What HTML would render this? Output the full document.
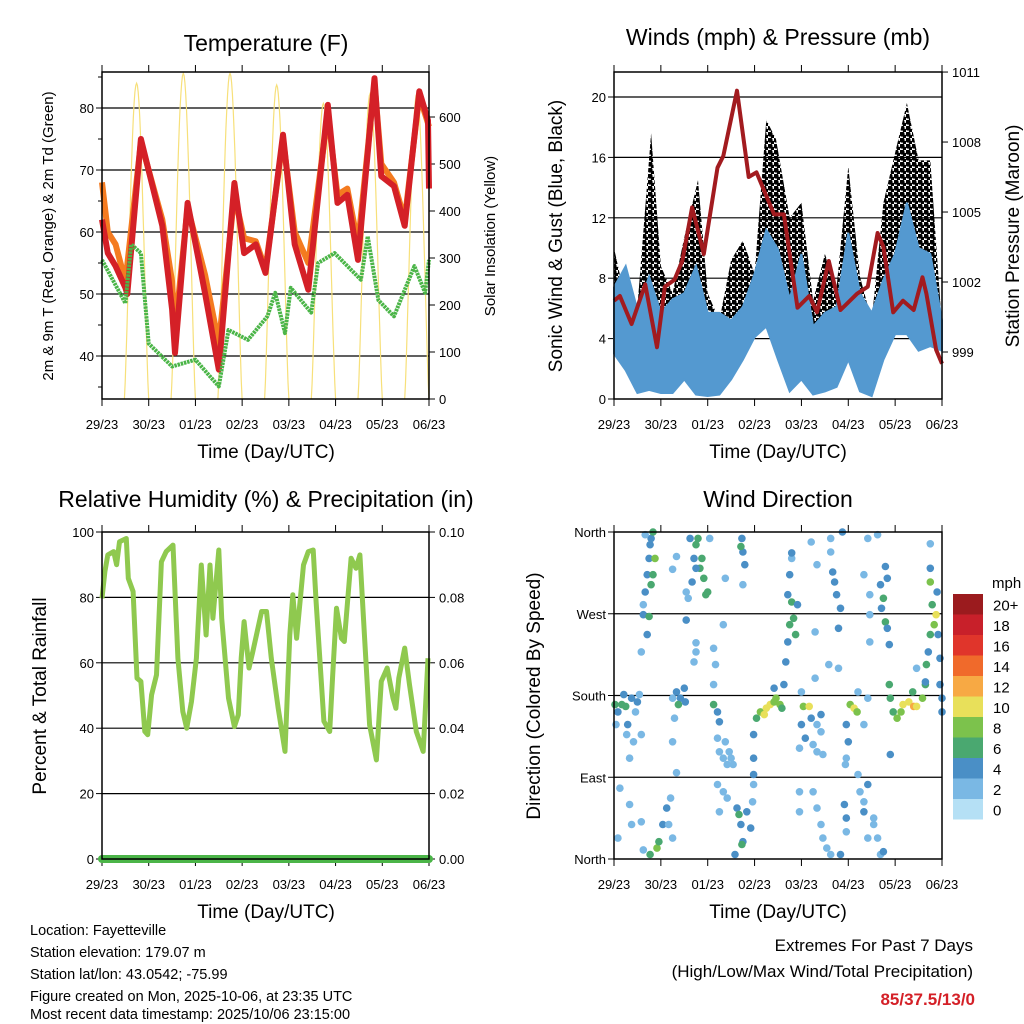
<!DOCTYPE html>
<html><head><meta charset="utf-8"><style>
html,body{margin:0;padding:0;background:#fff;}
svg{display:block;font-family:"Liberation Sans",Arial,sans-serif;}
</style></head><body>
<svg id="root" width="1024" height="1024" viewBox="0 0 1024 1024" xmlns="http://www.w3.org/2000/svg">
<defs>
<pattern id="gustDots" patternUnits="userSpaceOnUse" width="6" height="6">
<circle cx="2" cy="2" r="2.6" fill="#000"/>
<circle cx="5" cy="5" r="2.2" fill="#000"/>
</pattern>
</defs>
<rect x="0" y="0" width="1024" height="1024" fill="#fff"/>
<g id="layer"></g>
<text x="266" y="51" font-size="23" text-anchor="middle">Temperature (F)</text>
<text x="778" y="45" font-size="23" text-anchor="middle">Winds (mph) &amp; Pressure (mb)</text>
<text x="266" y="507" font-size="23" text-anchor="middle">Relative Humidity (%) &amp; Precipitation (in)</text>
<text x="778" y="507" font-size="23" text-anchor="middle">Wind Direction</text>
<text transform="translate(53,236) rotate(-90)" font-size="15" text-anchor="middle">2m &amp; 9m T (Red, Orange) &amp; 2m Td (Green)</text>
<text transform="translate(495,236) rotate(-90)" font-size="15" text-anchor="middle">Solar Insolation (Yellow)</text>
<text transform="translate(562,236) rotate(-90)" font-size="19" text-anchor="middle">Sonic Wind &amp; Gust (Blue, Black)</text>
<text transform="translate(1019,236) rotate(-90)" font-size="19" text-anchor="middle">Station Pressure (Maroon)</text>
<text transform="translate(46,696) rotate(-90)" font-size="19" text-anchor="middle">Percent &amp; Total Rainfall</text>
<text transform="translate(540,696) rotate(-90)" font-size="19" text-anchor="middle">Direction (Colored By Speed)</text>
<text x="266" y="458" font-size="19" text-anchor="middle">Time (Day/UTC)</text>
<text x="778" y="458" font-size="19" text-anchor="middle">Time (Day/UTC)</text>
<text x="266" y="918" font-size="19" text-anchor="middle">Time (Day/UTC)</text>
<text x="778" y="918" font-size="19" text-anchor="middle">Time (Day/UTC)</text>
<g font-size="14.5">
<text x="30" y="935">Location: Fayetteville</text>
<text x="30" y="957">Station elevation: 179.07 m</text>
<text x="30" y="979">Station lat/lon: 43.0542; -75.99</text>
<text x="30" y="1001">Figure created on Mon, 2025-10-06, at 23:35 UTC</text>
<text x="30" y="1023" dy="-4">Most recent data timestamp: 2025/10/06 23:15:00</text>
</g>
<g text-anchor="end">
<text x="973" y="951" font-size="17">Extremes For Past 7 Days</text>
<text x="973" y="977" font-size="17">(High/Low/Max Wind/Total Precipitation)</text>
<text x="975" y="1005" font-size="17" font-weight="bold" fill="#d42027">85/37.5/13/0</text>
</g>
<text x="992" y="588" font-size="15">mph</text>
</svg>
<script>
// ---------- DATA ----------
const dayLabels = ["29/23","30/23","01/23","02/23","03/23","04/23","05/23","06/23"];
// Temperature (hours since start)
const tRedHours = [0,3,7,12,13,20,31,36,37.5,44,53,60,68,73,79,84,93,99,106,116,121,126,131.5,140,143.5,150,155.5,163,167.5,168];
const tRed = [62,56.6,54.5,51,50,75,61,47.5,40.5,64.7,50,37.8,67.9,56.6,58,53.4,75.7,58,50.7,80.5,64.7,66,55.5,84.8,69,67.4,61,82.7,78,67];
const tOrangeHours = [0,1.5,3,7,12,20,31,36,37.5,44,53,60,68,73,79,84,93,99,106,116,121,126,131.5,140,143.5,150,155.5,163,168];
const tOrange = [68,64,60,58,52,74.5,62,52,44,64,53,42,66,59,58.5,54,75,60,55,79,66,67,58,84,71,68,62,82,77];
const tdHours = [0,12,15,20,24,36,48,60,65,75,85,89,94,97,107.5,111,119.5,133,136.5,142,150,160.5,166,168];
const tdGreen = [55.5,48.5,58,56.6,42,38.3,39.4,35.1,44.2,42.6,46.4,50.2,43.7,51,47,55,56.6,52.3,59.3,49,46.4,54.5,50.2,55.5];
const solarPeaks = [672,693,693,668,629,650,650];
const tempTicks = [40,50,60,70,80];
const solarTicks = [0,100,200,300,400,500,600];
// Winds
const windHours = [0,6,12,18,24,30,36,42,48,54,60,66,72,78,84,90,96,102,108,114,120,126,132,138,144,150,156,162,168];
const windUpper = [7.4,8.8,5.9,8.1,5.7,6.6,7,8.8,5.7,5.7,5.2,6.1,8.3,11.2,9.9,6.6,9.6,4.8,5.7,6.1,11,7,5.7,7.9,9.6,13,10,9.6,5.2];
const windLower = [3,1.9,0.4,0.6,0.4,0.4,1.3,0.3,0.2,0.3,1.3,2.6,4.1,4.8,2.6,0.5,1.3,0.3,0.5,0.8,2.6,0.5,0.2,2.6,4.3,4.3,3.2,3.5,3.2];
const gustHours = [0,6,12,19,24,30,36,43,48,54,60,66,72,78,83,90,96,102,108,114,120,126,132,138,144,150,156,162,168];
const gustHigh = [10,6.5,6.1,17.6,8.8,7,10.7,14.5,7,5.2,9.2,10.5,8.3,18.5,17.2,12,13,6.5,9.6,7.4,15.4,8.1,5.2,13,16.3,19.6,15.8,15.8,4.8];
const gustLow = [5,4,3,5,3,3,4,4,3,3,4,5,6,7,6,4,5,3,3,3,5,3,3,5,6,7,6,6,4];
const presHours = [0,3,9,16,22,26,31,35,40,46,53,56,63,69,73,82,87,94,100,104,110,116,124.5,130,135,138,143,148,153.5,158,160,165,168];
const pressure = [1001.2,1001.4,1000.2,1001.9,999.2,1001.8,1002.1,1002.9,1005.2,1003.2,1006.9,1007.4,1010.2,1006.5,1006.7,1004.9,1004.9,1000.9,1001.4,1000.7,1002.9,1000.8,1001.5,1001.8,1004.1,1003.5,1000.7,1001.2,1000.8,1002.2,1001.5,999.1,998.5];
const windTicks = [0,4,8,12,16,20];
const presTicks = [999,1002,1005,1008,1011];
// Humidity
const rhHours = [0,1.5,3,6,7.5,9,12.5,13.5,16,18,20,22,23.5,25.5,28,30.5,33,36.5,39,41.5,43.5,46,48.5,51,53.5,55.5,57,60,61.5,65,68,70,71.5,73,75.5,77.5,82,84.5,87,90.5,94,96.5,98,100,103.5,106,108.5,110,114,117,118.5,120.5,123,124.5,128,130.5,132.5,135,137.5,141,143.5,146.5,149.5,151,152.5,155.5,158,161.5,165,167.5];
const rh = [79.7,87.9,93,94,90,97,98,85.8,81.8,55.3,54.3,39,38,50.2,56.3,90.9,94,96,61.4,45.1,40,48.2,61.4,89.9,68.5,89.9,73.6,94.5,73.6,49.2,40.5,44.1,61.4,72.6,58.4,63.4,75.7,75.7,61.4,46.1,32.9,68.5,80.8,67.5,89.9,94,94.5,78.7,42.1,39,56.3,76.7,67.5,66.5,92,88.9,93,66.5,41,30.3,54.3,58.4,49.2,46.1,55.3,64.5,53.3,39,32.9,61.4];
const precipHours = [0,168];
const precip = [0,0];
const rhTicks = [0,20,40,60,80,100];
const precipTicks = ["0.00","0.02","0.04","0.06","0.08","0.10"];
// Wind direction scatter
const dirHours = [0.5,2,4,6,7,9,11,12,13,1,6.5,10,14,5,8,
15,16,17,18,18.5,19,20,21,20,19,17,15,14,18,16,
18.5,22,23,25,27,29,28,30,15,14,8,3,2,9,
32,34,36,36.5,31,30,33,30,32,
39,41,42,44,46,48,45,47,40,38,42,43,49,37,42,32,30,41,42,37,
51,53,54,53,54,56,58,60,57,61,59,51,52,51,56,
53,56,63,65,66,68,70,64,65.5,62,58,54,71.5,71,
65.5,66,67,65,66,57,
71.5,73,75,77,78,80,82,83,85,86,71.5,71.5,82,87,
89,90,91,92,93,90,89,94,88,91,91,
97,100,96,98,95,101,104,106,104,107,102,103,106,96,
95,95,102,104,106,107,109,111,
104,111,112,113,114,116,115,111,101,103,110,115,117,
121,123,124.5,119,120,119,118.5,125,130,128,125,
118,119,126,128,130,133,135,136.5,138,116,130,119,128,133,
130,135,128,131,131,136.5,138,139,140,140,131,139,137,141,
141,141.5,143,145,147,148,151,153.5,155,158,159.5,160,161,162,164,165,163,165.5,166,167,167,168,168,162,162,162,159.5,155,141.5,153];
const dirDegrees = [170,162,170,168,148,177,162,173,181,148,137,129,137,181,111,
269,294,313,331,346,353,360,331,313,302,247,280,228,267,357,
5,12,19,38,56,67,38,23,10,41,60,78,23,38,
184,177,188,173,155,129,170,177,95,
353,331,346,320,309,294,331,291,305,287,320,353,353,294,228,333,319,217,238,263,
170,162,151,133,118,111,104,111,129,104,118,232,214,192,258,
82,74,56,38,19,52,34,49,16,5,67,52,82,63,
353,338,324,344,302,309,
137,155,162,159,166,170,173,177,170,166,111,93,188,192,
291,313,283,265,247,258,239,280,217,331,337,
168,168,148,133,122,155,148,140,118,115,126,199,159,184,
74,52,74,56,38,23,12,5,
324,353,316,305,291,276,254,338,349,250,214,210,360,
170,166,162,148,129,111,104,184,177,148,93,
60,45,74,63,82,45,23,5,8,5,23,30,52,38,
353,357,313,291,269,302,287,261,254,309,239,322,276,236,
192,177,162,155,162,170,173,168,168,177,192,214,228,247,258,269,280,294,247,221,192,177,162,305,320,347,195,210,115,184];
const dirSpeeds = [6,4,7,6,4,4,3,4,3,3,2,2,2,4,2,
4,4,5,4,5,4,7,8,7,6,4,3,2,6,3,
7,8,7,4,4,3,3,2,2,2,2,2,3,2,
4,4,4,4,3,2,6,3,2,
4,4,6,6,7,6,7,6,4,3,5,6,3,2,3,2,2,3,2,4,
6,4,4,2,3,2,2,2,3,2,2,2,2,2,2,
2,2,4,4,4,4,4,6,6,4,2,2,2,2,
4,4,4,6,3,2,
4,7,8,10,10,10,9,8,8,6,4,4,4,4,
4,4,7,6,6,7,4,4,4,3,4,
8,10,4,4,3,4,3,3,2,2,3,2,4,3,
2,2,2,2,2,2,3,2,
2,3,4,4,4,4,4,2,2,2,2,2,4,
8,10,8,4,4,3,2,3,2,2,2,
4,4,3,3,4,3,2,3,4,4,2,3,4,2,
2,2,2,2,3,4,6,6,5,4,2,4,4,4,
6,6,6,8,8,10,10,12,10,8,6,6,4,6,8,10,6,4,4,4,4,4,4,8,4,3,4,2,4,6];
const dirTicks = ["North","East","South","West","North"];
const speedBins = ["0","2","4","6","8","10","12","14","16","18","20+"];
const speedColors = ["#b5e0f5","#7ab8e4","#4a8fc6","#4aa870","#7cc24c","#e8e05a","#f7a944","#f06a2b","#e0352b","#c8202a","#9b1b1e"];

// ---------- RENDER ----------
const NS = "http://www.w3.org/2000/svg";
const layer = document.getElementById("layer");
function mk(tag, attrs, parent){ const e=document.createElementNS(NS,tag); for(const k in attrs) e.setAttribute(k,attrs[k]); (parent||layer).appendChild(e); return e; }
const P1={x0:102,x1:429,y0:72,y1:399}, P2={x0:614,x1:942,y0:72,y1:399}, P3={x0:102,x1:429,y0:532,y1:859}, P4={x0:614,x1:942,y0:532,y1:859};
const xT = (P,h)=> P.x0 + h/168*(P.x1-P.x0);
const yTemp = v=> 356 - (v-40)*6.2;
const ySolar = v=> 399 - v*0.47;
const yWind = v=> 399 - v*15.1;
const yPres = v=> 352 - (v-999)*23.33;
const yRH = v=> 859 - v*3.27;
const yPrecip = v=> 859 - v*3270;
const yDir = v=> 859 - v*0.9083;

function pathFrom(P, hrs, vals, yf){ return hrs.map((h,i)=>(i?"L":"M")+xT(P,h).toFixed(1)+","+yf(vals[i]).toFixed(1)).join(""); }

function gridAndAxes(P, name, leftTicks, yL, leftLabels, rightTicks, yR, rightLabels, grid){
  const g = mk("g",{});
  
  
  leftTicks.forEach((v,i)=>{
    const y=yL(v);
    if(grid && y>P.y0+1 && y<P.y1-1) mk("line",{x1:P.x0,x2:P.x1,y1:y,y2:y,stroke:"#000","stroke-width":1.2},g);
    mk("line",{x1:P.x0-6,x2:P.x0,y1:y,y2:y,stroke:"#000","stroke-width":1},g);
    const t=mk("text",{x:P.x0-8,y:y+5,"font-size":13,"text-anchor":"end"},g); t.textContent=leftLabels[i];
    
    
  });
  if(rightTicks) rightTicks.forEach((v,i)=>{
    const y=yR(v);
    mk("line",{x1:P.x1,x2:P.x1+6,y1:y,y2:y,stroke:"#000","stroke-width":1},g);
    const t=mk("text",{x:P.x1+10,y:y+5,"font-size":13},g); t.textContent=rightLabels[i];
    
    
  });
  dayLabels.forEach((d,i)=>{
    const x=xT(P,i*24);
    mk("line",{x1:x,x2:x,y1:P.y1,y2:P.y1+7,stroke:"#000","stroke-width":1},g);
    mk("line",{x1:x,x2:x,y1:P.y0,y2:P.y0-7,stroke:"#000","stroke-width":1},g);
    const t=mk("text",{x:x,y:P.y1+30,"font-size":13,"text-anchor":"middle"},g); t.textContent=d;
    
    
  });
}
function frame(P,name){
  const r=mk("rect",{x:P.x0,y:P.y0,width:P.x1-P.x0,height:P.y1-P.y0,fill:"none",stroke:"#000","stroke-width":1.5});
  
  
}

// Panel 1: temperature
gridAndAxes(P1,"temperature",tempTicks,yTemp,tempTicks.map(String),solarTicks,ySolar,solarTicks.map(String),true);
[45,55,65,75,85,35].forEach(v=>{ mk("line",{x1:P1.x0-4,x2:P1.x0,y1:yTemp(v),y2:yTemp(v),stroke:"#000"}); });
let sp="";
solarPeaks.forEach((pk,d)=>{
  for(let k=0;k<=30;k++){
    const f=k/30, h=(d+0.48+0.52*f)*24;
    const v=pk*Math.pow(Math.sin(Math.PI*f),1.3);
    sp+=(k?"L":"M")+xT(P1,h).toFixed(1)+","+ySolar(v).toFixed(1);
  }
});
const sol=mk("path",{d:sp,fill:"none",stroke:"#f7e07a","stroke-width":1.2});


const orn=mk("path",{d:pathFrom(P1,tOrangeHours,tOrange,yTemp),fill:"none",stroke:"#f47b20","stroke-width":6,"stroke-linejoin":"round"});


const red=mk("path",{d:pathFrom(P1,tRedHours,tRed,yTemp),fill:"none",stroke:"#d42027","stroke-width":6,"stroke-linejoin":"round"});


const td=mk("path",{d:pathFrom(P1,tdHours,tdGreen,yTemp),fill:"none",stroke:"#4bb548","stroke-width":4,"stroke-dasharray":"2.5 0.8","stroke-linejoin":"round"});


frame(P1,"temperature");

// Panel 2: winds
gridAndAxes(P2,"winds",windTicks,yWind,windTicks.map(String),presTicks,yPres,presTicks.map(String),true);
let gp=gustHours.map((h,i)=>(i?"L":"M")+xT(P2,h).toFixed(1)+","+yWind(gustHigh[i]).toFixed(1)).join("");
for(let i=gustHours.length-1;i>=0;i--) gp+="L"+xT(P2,gustHours[i]).toFixed(1)+","+yWind(gustLow[i]).toFixed(1);
const gust=mk("path",{d:gp+"Z",fill:"url(#gustDots)",stroke:"none"});


let bp=windHours.map((h,i)=>(i?"L":"M")+xT(P2,h).toFixed(1)+","+yWind(windUpper[i]).toFixed(1)).join("");
for(let i=windHours.length-1;i>=0;i--) bp+="L"+xT(P2,windHours[i]).toFixed(1)+","+yWind(windLower[i]).toFixed(1);
const blue=mk("path",{d:bp+"Z",fill:"#5499d0",stroke:"#5499d0","stroke-width":2});


const pr=mk("path",{d:pathFrom(P2,presHours,pressure,yPres),fill:"none",stroke:"#a21b1f","stroke-width":4,"stroke-linejoin":"round"});


frame(P2,"winds");

// Panel 3: RH
gridAndAxes(P3,"humidity",rhTicks,yRH,rhTicks.map(String),precipTicks.map(Number),yPrecip,precipTicks,true);
const rhl=mk("path",{d:pathFrom(P3,rhHours,rh,yRH),fill:"none",stroke:"#8fc94f","stroke-width":5,"stroke-linejoin":"round"});


const pcl=mk("path",{d:pathFrom(P3,precipHours,precip,yPrecip),fill:"none",stroke:"#4bb548","stroke-width":8,"stroke-linecap":"round"});


frame(P3,"humidity");

// Panel 4: direction
gridAndAxes(P4,"direction",[0,90,180,270,360],yDir,dirTicks,null,null,null,true);
dirHours.forEach((h,i)=>{
  const b=Math.min(10,Math.floor(dirSpeeds[i]/2));
  const c=mk("circle",{cx:xT(P4,h).toFixed(1),cy:yDir(dirDegrees[i]).toFixed(1),r:3.8,fill:speedColors[b]});
  
  
});
frame(P4,"direction");

// Colorbar
const cbTop=594, cbH=20.5;
speedBins.forEach((lab,i)=>{
  const idx=10-i;
  const r=mk("rect",{x:953,y:cbTop+i*cbH,width:30,height:cbH,fill:speedColors[idx]});
  
  
  const t=mk("text",{x:993,y:cbTop+i*cbH+cbH/2+6,"font-size":15},layer);
  t.textContent=speedBins[idx];
  
  
});
</script>
</body></html>
